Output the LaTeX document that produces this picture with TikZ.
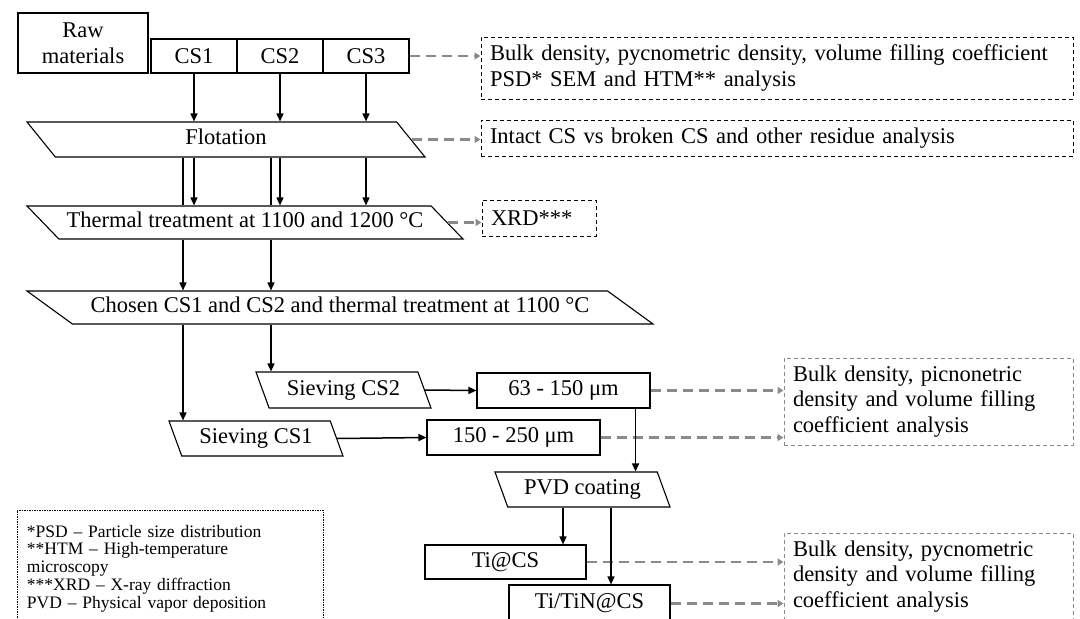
\documentclass[tikz,border=0pt]{standalone}
\usepackage{fontspec}
\setmainfont{Liberation Serif}
\usetikzlibrary{shapes.geometric,arrows.meta}

\definecolor{anagray}{HTML}{8A8A8A}

\tikzset{
    proc/.style={draw, line width=1.1pt, inner sep=0pt, align=center},
    para/.style={proc, trapezium, trapezium stretches body, text height=15pt, text depth=5pt},
    note/.style={draw, line width=1pt, dash pattern=on 4pt off 3pt, align=left, inner xsep=9pt, inner ysep=0pt},
    arr/.style={line width=1.5pt, -{Triangle[length=8pt,width=7pt]}},
    link/.style={line width=1.5pt},
    ana/.style={anagray, line width=2.8pt, dash pattern=on 10pt off 6pt, -{Triangle[length=6pt,width=7pt]}}
}

\begin{document}
\begin{tikzpicture}[x=1pt, y=-1pt, font=\fontsize{22.5}{25.7}\selectfont]
\useasboundingbox (0,0) rectangle (1080,619);

% raw materials
\node[proc, minimum width=130pt, minimum height=60pt] (raw) at (83,43) {Raw\\materials};
\foreach \x [count=\i] in {194,280,366}
    \node[proc, minimum width=86pt, minimum height=34pt] (cs\i) at (\x,56) {CS\i};

% process steps
\node[para, trapezium left angle=129, trapezium right angle=51, inner ysep=7.5pt,
    minimum width=398pt] (flot) at (226,139.5) {Flotation};
\node[para, trapezium left angle=134, trapezium right angle=46, inner ysep=6.5pt,
    minimum width=436pt] (therm) at (245,222.5) {Thermal treatment at 1100 and 1200 °C};
\node[para, trapezium left angle=144, trapezium right angle=36, inner ysep=6.5pt,
    minimum width=626pt] (chosen) at (340,307.5) {Chosen CS1 and CS2 and thermal treatment at 1100 °C};
\node[para, trapezium left angle=110, trapezium right angle=70, inner ysep=8pt,
    minimum width=175pt] (siev2) at (343.5,390) {Sieving CS2};
\node[para, trapezium left angle=110, trapezium right angle=70, inner ysep=7.5pt,
    minimum width=174pt] (siev1) at (256,438.5) {Sieving CS1};
\node[para, trapezium left angle=110, trapezium right angle=70, inner ysep=7.5pt,
    minimum width=175pt] (pvd) at (582.5,489.5) {PVD coating};

% fractions and coated spheres
\node[proc, minimum width=173pt, minimum height=35pt] (r63) at (563.5,390.5) {63 - 150 μm};
\node[proc, minimum width=173pt, minimum height=35pt] (r150) at (513.5,437.5) {150 - 250 μm};
\node[proc, minimum width=161pt, minimum height=34pt] (ti) at (505.5,562) {Ti@CS};
\node[proc, minimum width=161pt, minimum height=37pt] (titin) at (589.5,603.5) {Ti/TiN@CS};

% analyses
\node[note, text width=574pt, minimum height=62pt] (bulk) at (777,68)
    {Bulk density, pycnometric density, volume filling coefficient\\[1pt]PSD* SEM and HTM** analysis};
\node[note, text width=574pt, minimum height=36pt] (intact) at (777,138)
    {Intact CS vs broken CS and other residue analysis};
\node[note, text width=96pt, minimum height=36pt] (xrd) at (539,218) {XRD***};
\node[note, draw=anagray, text width=271pt, minimum height=87pt] (dens1) at (928.5,401.5)
    {Bulk density, picnonetric\\density and volume filling\\coefficient analysis};
\node[note, draw=anagray, text width=271pt, minimum height=87pt] (dens2) at (928.5,576.5)
    {Bulk density, pycnometric\\density and volume filling\\coefficient analysis};

% abbreviations
\node[draw, line width=0.8pt, dash pattern=on 1.5pt off 1pt, align=left, inner xsep=10pt,
    text width=286pt, minimum height=117pt, font=\fontsize{17.5}{17.8}\selectfont] (abbr) at (170,568.5)
    {*PSD – Particle size distribution\\{}**HTM – High-temperature\\microscopy\\{}***XRD – X-ray diffraction\\PVD – Physical vapor deposition};

% dashed links to analyses
\draw[ana] (cs3.east) -- (cs3.east -| bulk.west);
\draw[ana] (flot.east) -- (flot.east -| intact.west);
\draw[ana] (therm.east) -- (therm.east -| xrd.west);
\draw[ana] (r63.east) -- (r63.east -| dens1.west);
\draw[ana] (r150.east) -- (r150.east -| dens1.west);
\draw[ana] (ti.east) -- (ti.east -| dens2.west);
\draw[ana] (titin.east) -- (titin.east -| dens2.west);

% process flow
\coordinate (lane1) at (183,0);
\coordinate (lane2) at (271,0);
\foreach \i in {1,2,3} {
    \draw[arr] (cs\i.south) -- (cs\i.south |- flot.north);
    \draw[arr] (cs\i.south |- flot.south) -- (cs\i.south |- therm.north);
}
\draw[link] (lane1 |- flot.south) -- (lane1 |- therm.north);
\draw[link] (lane2 |- flot.south) -- (lane2 |- therm.north);
\draw[arr] (lane1 |- therm.south) -- (lane1 |- chosen.north);
\draw[arr] (lane2 |- therm.south) -- (lane2 |- chosen.north);
\draw[arr] (lane1 |- chosen.south) -- (lane1 |- siev1.north);
\draw[arr] (lane2 |- chosen.south) -- (lane2 |- siev2.north);
\draw[arr] (siev2.east) -- (r63.west);
\draw[arr] (siev1.east) -- (r150.west);
\coordinate (drop) at ([xshift=-15pt]r63.south east);
\draw[arr] (drop) -- (drop |- pvd.north);
\coordinate (tap1) at ([xshift=-19.5pt]pvd.south);
\coordinate (tap2) at ([xshift=28.5pt]pvd.south);
\draw[arr] (tap1) -- (tap1 |- ti.north);
\draw[arr] (tap2) -- (tap2 |- titin.north);
\end{tikzpicture}
\end{document}
